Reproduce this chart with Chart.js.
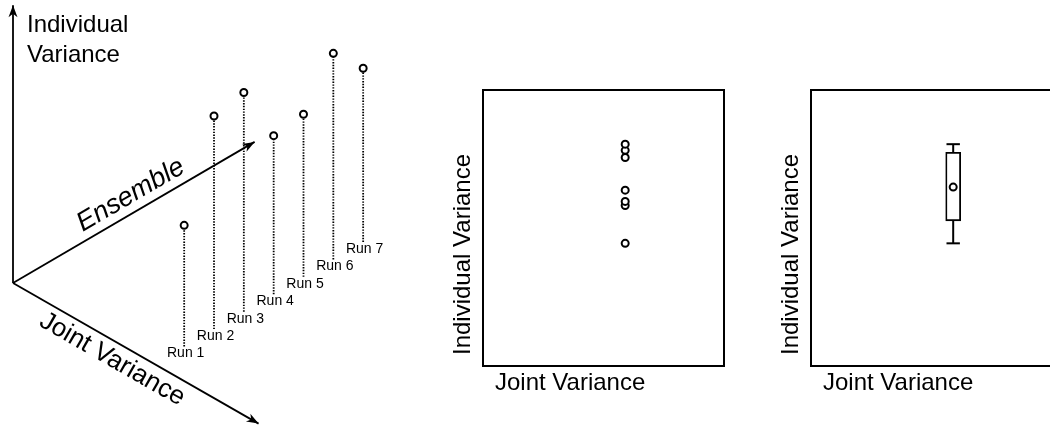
<!DOCTYPE html>
<html>
<head>
<meta charset="utf-8">
<script src="https://cdn.jsdelivr.net/npm/chart.js@4.4.0/dist/chart.umd.min.js"></script>
<style>
  html, body { margin: 0; padding: 0; background: #fff; overflow: hidden; }
  #wrap { position: relative; width: 1050px; height: 428px; overflow: hidden; }
  canvas { position: absolute; top: 0; }
</style>
</head>
<body>
<div id="wrap">
  <canvas id="ensembleChart" width="440" height="428" style="left:0"></canvas>
  <canvas id="scatterChart" width="300" height="428" style="left:440px"></canvas>
  <canvas id="boxChart" width="290" height="428" style="left:770px"></canvas>
</div>
<script>
// Ensemble runs
const runs = ['Run 1', 'Run 2', 'Run 3', 'Run 4', 'Run 5', 'Run 6', 'Run 7'];
const individualVariance = [1.20, 2.11, 2.17, 1.57, 1.61, 2.04, 1.72];
const jointVariance = [0.59, 0.59, 0.59, 0.59, 0.59, 0.59, 0.59];

// Box plot summary of the runs: min, q1, mean, q3, max
const boxLabels = ['min', 'q1', 'mean', 'q3', 'max'];
const boxStats = [1.20, 1.42, 1.75, 2.09, 2.17];
const boxJoint = 0.59;

Chart.defaults.font.family = "'Liberation Sans', Arial, sans-serif";
Chart.defaults.color = '#000';

const ink = '#000';

// oblique projection of (ensemble, joint, individual) onto the left plane
const origin = { x: 13, y: 283 };
const runStep = { x: 29.83, y: -17.42 };
const jointDir = { x: 0.868, y: 0.497 };
const jointPx = 276;
const indivPx = 101;

function project(ens, joint, indiv) {
    return {
        x: origin.x + ens * runStep.x + joint * jointPx * jointDir.x,
        y: origin.y + ens * runStep.y + joint * jointPx * jointDir.y - indiv * indivPx
    };
}

function drawArrowHead(ctx, from, to) {
    const a = Math.atan2(to.y - from.y, to.x - from.x);
    ctx.save();
    ctx.translate(to.x, to.y);
    ctx.rotate(a);
    ctx.beginPath();
    ctx.moveTo(0, 0);
    ctx.lineTo(-12, -4.5);
    ctx.lineTo(-8.5, 0);
    ctx.lineTo(-12, 4.5);
    ctx.closePath();
    ctx.fillStyle = ink;
    ctx.fill();
    ctx.restore();
}

function hiddenScales(xmin, xmax, ymin, ymax, reverse) {
    return {
        x: { type: 'linear', min: xmin, max: xmax, display: false, offset: false },
        y: { type: 'linear', min: ymin, max: ymax, display: false, reverse: !!reverse }
    };
}

const commonOptions = {
    responsive: false,
    animation: false,
    events: [],
    plugins: { legend: { display: false }, tooltip: { enabled: false } }
};

// ---------- left: the ensemble diagram ----------
const axisEnds = [project(0, 0, 2.75), project(8.1, 0, 0), project(0, 1.025, 0)];

const stemSets = runs.map((r, i) => ({
    type: 'scatter',
    showLine: true,
    data: [project(i + 1, jointVariance[i], 0), project(i + 1, jointVariance[i], individualVariance[i])],
    borderColor: ink,
    borderWidth: 1.8,
    borderDash: [1.4, 1.4],
    pointRadius: 0
}));

const axisSets = axisEnds.map(end => ({
    type: 'scatter',
    showLine: true,
    arrow: true,
    data: [project(0, 0, 0), end],
    borderColor: ink,
    borderWidth: 1.8,
    pointRadius: 0
}));

const ensemblePlugin = {
    id: 'ensembleDecor',
    afterDatasetsDraw(chart) {
        const ctx = chart.ctx;
        const xs = chart.scales.x, ys = chart.scales.y;
        const px = p => ({ x: xs.getPixelForValue(p.x), y: ys.getPixelForValue(p.y) });

        // arrow heads
        chart.data.datasets.forEach(ds => {
            if (!ds.arrow) return;
            drawArrowHead(ctx, px(ds.data[0]), px(ds.data[1]));
        });

        ctx.save();
        ctx.fillStyle = ink;

        // run labels under each stem
        ctx.font = "14px 'Liberation Sans', Arial, sans-serif";
        ctx.textAlign = 'center';
        ctx.textBaseline = 'middle';
        runs.forEach((r, i) => {
            const b = px(project(i + 1, jointVariance[i], 0));
            ctx.fillText(r, b.x + 1.5, b.y + 7);
        });

        // vertical axis title
        const o = px(project(0, 0, 0));
        ctx.font = "24px 'Liberation Sans', Arial, sans-serif";
        ctx.textAlign = 'left';
        ctx.textBaseline = 'alphabetic';
        ctx.fillText('Individual', o.x + 14, 32);
        ctx.fillText('Variance', o.x + 14, 62);

        // ensemble title along its axis
        const e = px(axisEnds[1]);
        let ang = Math.atan2(e.y - o.y, e.x - o.x);
        ctx.save();
        ctx.translate(o.x, o.y);
        ctx.rotate(ang);
        ctx.font = "italic 27px 'Liberation Sans', Arial, sans-serif";
        ctx.textAlign = 'center';
        ctx.fillText('Ensemble', 146, -9);
        ctx.restore();

        // joint variance title along its axis
        const j = px(axisEnds[2]);
        ang = Math.atan2(j.y - o.y, j.x - o.x);
        ctx.save();
        ctx.translate(o.x, o.y);
        ctx.rotate(ang);
        ctx.font = "26px 'Liberation Sans', Arial, sans-serif";
        ctx.textAlign = 'center';
        ctx.textBaseline = 'middle';
        ctx.fillText('Joint Variance', 124, 17);
        ctx.restore();

        ctx.restore();
    }
};

new Chart(document.getElementById('ensembleChart'), {
    type: 'scatter',
    data: {
        datasets: [{
            data: runs.map((r, i) => project(i + 1, jointVariance[i], individualVariance[i])),
            pointRadius: 3.5,
            pointBorderWidth: 2,
            pointBorderColor: ink,
            pointBackgroundColor: '#fff'
        }].concat(stemSets, axisSets)
    },
    options: Object.assign({}, commonOptions, {
        layout: { padding: 0, autoPadding: false },
        scales: hiddenScales(0, 440, 0, 428, true)
    }),
    plugins: [ensemblePlugin]
});

// ---------- framed panels ----------
const panelPlugin = {
    id: 'panelDecor',
    afterDatasetsDraw(chart) {
        const ctx = chart.ctx;
        const a = chart.chartArea;
        ctx.save();
        ctx.strokeStyle = ink;
        ctx.lineWidth = 2;
        ctx.strokeRect(a.left, a.top, a.right - a.left, a.bottom - a.top);

        ctx.fillStyle = ink;
        ctx.font = "24px 'Liberation Sans', Arial, sans-serif";
        ctx.textBaseline = 'middle';
        ctx.textAlign = 'left';
        ctx.fillText('Joint Variance', a.left + 12, a.bottom + 17);

        ctx.translate(a.left - 20, a.bottom - 11);
        ctx.rotate(-Math.PI / 2);
        ctx.fillText('Individual Variance', 0, 0);
        ctx.restore();
    }
};

new Chart(document.getElementById('scatterChart'), {
    type: 'scatter',
    data: {
        datasets: [{
            data: runs.map((r, i) => ({ x: jointVariance[i], y: individualVariance[i] })),
            pointRadius: 3.5,
            pointBorderWidth: 2,
            pointBorderColor: ink,
            pointBackgroundColor: '#fff'
        }]
    },
    options: Object.assign({}, commonOptions, {
        layout: { padding: { left: 43, top: 90, right: 16, bottom: 62 }, autoPadding: false },
        scales: hiddenScales(0, 1, 0, 2.7)
    }),
    plugins: [panelPlugin]
});

const [bMin, bQ1, bMean, bQ3, bMax] = boxStats;

new Chart(document.getElementById('boxChart'), {
    type: 'scatter',
    data: {
        datasets: [
            {   // mean
                data: [{ x: boxJoint, y: bMean }],
                pointRadius: 3.5,
                pointBorderWidth: 2,
                pointBorderColor: ink,
                pointBackgroundColor: '#fff'
            },
            {   // whisker caps
                data: [{ x: boxJoint, y: bMax }, { x: boxJoint, y: bMin }],
                pointStyle: 'line',
                pointRadius: 6.7,
                pointBorderWidth: 2,
                pointBorderColor: ink
            },
            {
                showLine: true,
                data: [{ x: boxJoint, y: bQ3 }, { x: boxJoint, y: bMax }],
                borderColor: ink, borderWidth: 2, pointRadius: 0
            },
            {
                showLine: true,
                data: [{ x: boxJoint, y: bMin }, { x: boxJoint, y: bQ1 }],
                borderColor: ink, borderWidth: 2, pointRadius: 0
            },
            {   // interquartile box
                type: 'bar',
                data: [{ x: boxJoint, y: [bQ1, bQ3] }],
                barThickness: 15,
                backgroundColor: '#fff',
                borderColor: ink,
                borderWidth: 1.8,
                borderSkipped: false
            }
        ]
    },
    options: Object.assign({}, commonOptions, {
        layout: { padding: { left: 41, top: 90, right: 8, bottom: 62 }, autoPadding: false },
        scales: hiddenScales(0, 1, 0, 2.7)
    }),
    plugins: [panelPlugin]
});
</script>
</body>
</html>
